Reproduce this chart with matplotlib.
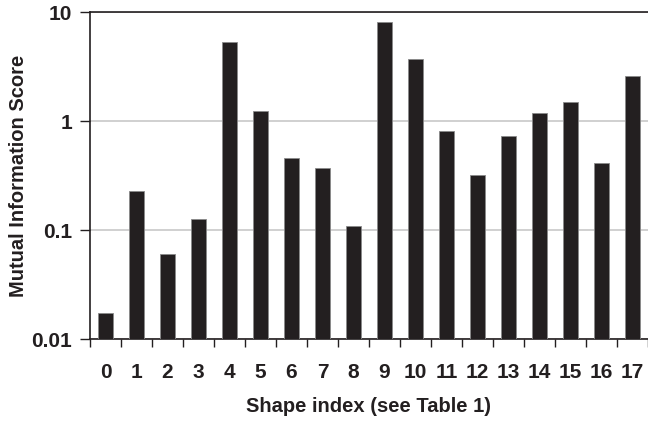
import matplotlib
matplotlib.use("Agg")
import matplotlib.pyplot as plt
from matplotlib.ticker import FixedLocator, NullLocator, FixedFormatter

plt.rcParams['font.family'] = ['Liberation Sans', 'DejaVu Sans']

shapes = [str(i) for i in range(18)]
scores = [0.0164, 0.226, 0.0593, 0.126, 5.3, 1.24, 0.458, 0.375, 0.109,
          8.2, 3.7, 0.82, 0.321, 0.738, 1.18, 1.51, 0.417, 2.62]
ytick_vals = [0.01, 0.1, 1, 10]
ytick_labels = ['0.01', '0.1', '1', '10']

fig = plt.figure(figsize=(6.48, 4.23), dpi=100)
ax = fig.add_axes([90/648, (423-339.3)/423, 1 - 90/648, (339.3-12.3)/423])

x = list(range(len(shapes)))
ax.bar(x, scores, width=0.46, color='#231f20', edgecolor='#8a8a8a', linewidth=0.6,
       zorder=3, bottom=0.001)
ax.set_yscale('log')
ax.set_ylim(0.01, 10)
ax.set_xlim(-0.5, len(shapes) - 0.5)

ax.yaxis.set_major_locator(FixedLocator(ytick_vals))
ax.yaxis.set_major_formatter(FixedFormatter(ytick_labels))
ax.yaxis.set_minor_locator(NullLocator())
ax.grid(axis='y', which='major', color='#c8c8c8', linewidth=1.2, zorder=0)

ax.set_xticks(x)
ax.set_xticklabels(shapes)
ax.xaxis.set_minor_locator(FixedLocator([i - 0.5 for i in range(len(shapes) + 1)]))
ax.tick_params(axis='x', which='major', length=0, pad=17, labelsize=15)
ax.tick_params(axis='x', which='minor', length=6, width=1, direction='out', color='#231f20')
ax.tick_params(axis='y', which='major', length=7, width=1, pad=6, labelsize=15, color='#231f20')
for lbl in ax.get_xticklabels() + ax.get_yticklabels():
    lbl.set_fontweight('bold')
    lbl.set_color('#231f20')

ax.spines['right'].set_visible(False)
for s in ['left', 'bottom', 'top']:
    ax.spines[s].set_color('#231f20')
    ax.spines[s].set_linewidth(1.2)

ax.set_xlabel('Shape index (see Table 1)', fontsize=14.5, fontweight='bold', color='#231f20', labelpad=11)
ax.set_ylabel('Mutual Information Score', fontsize=14.5, fontweight='bold', color='#231f20', labelpad=2)

fig.savefig('out.png', dpi=100)
